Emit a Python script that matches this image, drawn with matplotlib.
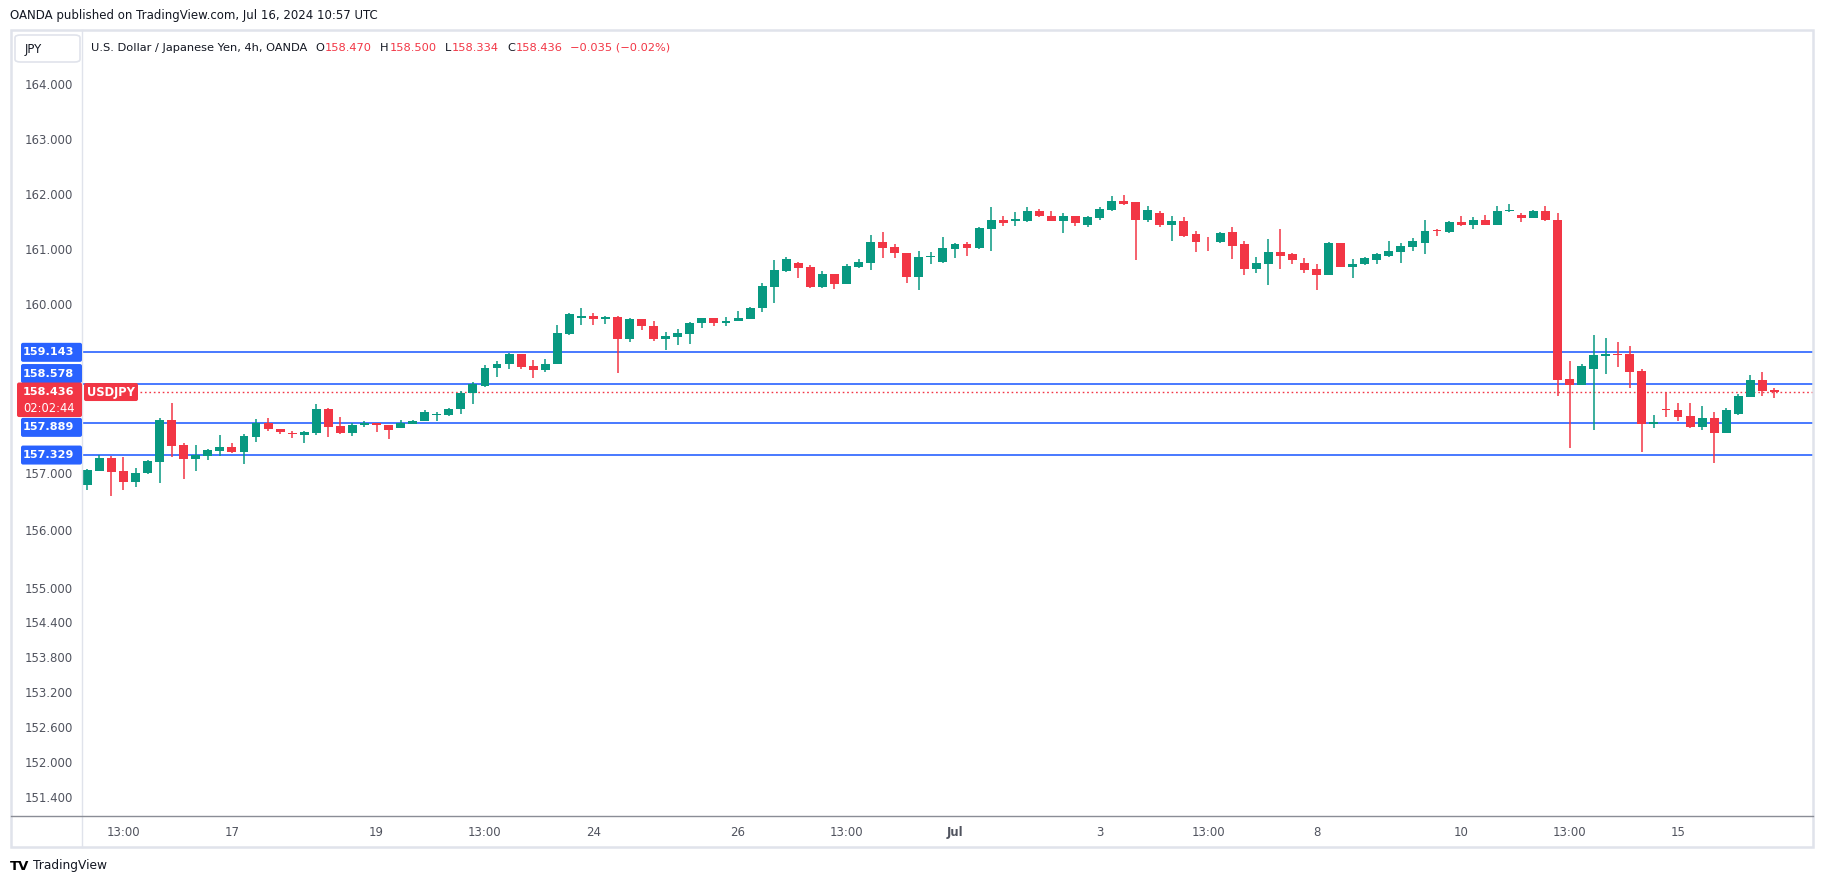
"""
USD/JPY 4h candlestick chart (OANDA), styled after a TradingView snapshot.
"""
import matplotlib
matplotlib.use("Agg")
import matplotlib.pyplot as plt
import numpy as np
from matplotlib.lines import Line2D
from matplotlib.patches import FancyBboxPatch, Rectangle
from matplotlib.ticker import FixedLocator, FuncFormatter, NullFormatter, NullLocator
from matplotlib.transforms import IdentityTransform


# candle data, one entry per 4h bar (Jun 13 01:00 -> Jul 16 09:00)
opens = [
    156.79, 157.04, 157.26, 157.04, 156.85, 157.01, 157.20, 157.94, 157.49, 157.25,
    157.31, 157.39, 157.46, 157.38, 157.64, 157.89, 157.78, 157.70, 157.68, 157.71,
    158.14, 157.83, 157.71, 157.85, 157.89, 157.86, 157.80, 157.87, 157.92, 158.02,
    158.02, 158.13, 158.41, 158.54, 158.86, 158.94, 159.11, 158.90, 158.82, 158.93,
    159.47, 159.76, 159.80, 159.74, 159.78, 159.38, 159.73, 159.61, 159.38, 159.42,
    159.47, 159.67, 159.75, 159.67, 159.70, 159.74, 159.93, 160.32, 160.60, 160.74,
    160.67, 160.32, 160.54, 160.37, 160.67, 160.74, 161.13, 161.04, 160.92, 160.50,
    160.85, 160.77, 160.99, 161.08, 161.01, 161.35, 161.53, 161.51, 161.51, 161.69,
    161.60, 161.51, 161.59, 161.44, 161.55, 161.71, 161.86, 161.84, 161.53, 161.64,
    161.44, 161.51, 161.26, 161.145, 161.13, 161.30, 161.08, 160.64, 160.73, 160.95,
    160.90, 160.75, 160.63, 160.53, 161.10, 160.68, 160.72, 160.79, 160.88, 160.95,
    161.04, 161.11, 161.33, 161.31, 161.48, 161.44, 161.53, 161.44, 161.68, 161.62,
    161.55, 161.69, 161.53, 158.67, 158.56, 158.85, 159.08, 159.11, 159.11, 158.81,
    157.87, 158.14, 158.12, 158.01, 157.82, 157.98, 157.71, 158.05, 158.35, 158.65,
    158.470,
]
highs = [
    157.08, 157.32, 157.30, 157.28, 157.10, 157.24, 157.98, 158.25, 157.53, 157.49,
    157.43, 157.67, 157.53, 157.69, 157.95, 157.97, 157.78, 157.74, 157.74, 158.23,
    158.16, 158.00, 157.88, 157.93, 157.89, 157.86, 157.94, 157.94, 158.12, 158.09,
    158.15, 158.45, 158.62, 158.92, 158.98, 159.13, 159.11, 159.01, 159.03, 159.63,
    159.84, 159.93, 159.84, 159.80, 159.80, 159.75, 159.73, 159.70, 159.50, 159.56,
    159.68, 159.75, 159.75, 159.77, 159.89, 159.96, 160.39, 160.79, 160.85, 160.76,
    160.70, 160.60, 160.54, 160.72, 160.81, 161.25, 161.30, 161.08, 160.93, 160.97,
    160.95, 161.21, 161.10, 161.13, 161.40, 161.75, 161.59, 161.66, 161.75, 161.73,
    161.69, 161.64, 161.60, 161.59, 161.75, 161.95, 161.97, 161.84, 161.77, 161.69,
    161.59, 161.57, 161.33, 161.21, 161.30, 161.40, 161.15, 160.86, 161.17, 161.35,
    160.92, 160.84, 160.73, 161.13, 161.11, 160.82, 160.86, 160.93, 161.15, 161.10,
    161.19, 161.53, 161.35, 161.51, 161.60, 161.57, 161.62, 161.77, 161.82, 161.64,
    161.71, 161.77, 161.64, 158.99, 158.94, 159.45, 159.40, 159.33, 159.26, 158.85,
    158.03, 158.44, 158.24, 158.24, 158.19, 158.08, 158.15, 158.40, 158.74, 158.79,
    158.500,
]
lows = [
    156.70, 157.04, 156.60, 156.71, 156.75, 156.99, 156.83, 157.29, 156.90, 157.04,
    157.24, 157.30, 157.35, 157.17, 157.55, 157.74, 157.70, 157.62, 157.53, 157.67,
    157.64, 157.70, 157.65, 157.81, 157.73, 157.60, 157.80, 157.87, 157.92, 157.92,
    158.01, 158.05, 158.23, 158.52, 158.71, 158.84, 158.84, 158.68, 158.80, 158.93,
    159.46, 159.63, 159.63, 159.65, 158.77, 159.33, 159.54, 159.35, 159.19, 159.28,
    159.30, 159.58, 159.61, 159.61, 159.70, 159.74, 159.86, 160.02, 160.59, 160.48,
    160.30, 160.30, 160.27, 160.36, 160.66, 160.62, 160.84, 160.84, 160.39, 160.26,
    160.72, 160.75, 160.84, 160.88, 160.99, 160.97, 161.42, 161.42, 161.48, 161.57,
    161.50, 161.28, 161.42, 161.40, 161.53, 161.68, 161.80, 160.79, 161.48, 161.39,
    161.15, 161.21, 160.95, 160.97, 161.11, 160.82, 160.53, 160.57, 160.35, 160.64,
    160.72, 160.57, 160.26, 160.53, 160.68, 160.48, 160.70, 160.73, 160.86, 160.75,
    160.97, 160.90, 161.24, 161.28, 161.42, 161.35, 161.44, 161.44, 161.66, 161.48,
    161.55, 161.51, 158.37, 157.44, 158.56, 157.76, 158.76, 158.88, 158.51, 157.37,
    157.80, 157.99, 157.92, 157.80, 157.76, 157.18, 157.71, 158.03, 158.35, 158.37,
    158.334,
]
closes = [
    157.05, 157.26, 157.03, 156.85, 157.01, 157.21, 157.94, 157.48, 157.25, 157.32,
    157.41, 157.46, 157.38, 157.65, 157.89, 157.78, 157.73, 157.69, 157.72, 158.14,
    157.81, 157.71, 157.86, 157.89, 157.85, 157.77, 157.88, 157.93, 158.09, 158.04,
    158.14, 158.41, 158.57, 158.87, 158.94, 159.11, 158.88, 158.82, 158.94, 159.48,
    159.82, 159.80, 159.74, 159.78, 159.38, 159.73, 159.61, 159.38, 159.43, 159.48,
    159.66, 159.75, 159.67, 159.71, 159.75, 159.94, 160.33, 160.61, 160.81, 160.66,
    160.32, 160.54, 160.37, 160.69, 160.76, 161.13, 161.02, 160.92, 160.50, 160.86,
    160.88, 161.01, 161.08, 161.01, 161.37, 161.53, 161.46, 161.54, 161.69, 161.59,
    161.51, 161.59, 161.46, 161.57, 161.73, 161.86, 161.82, 161.53, 161.71, 161.44,
    161.51, 161.24, 161.13, 161.138, 161.28, 161.06, 160.63, 160.75, 160.95, 160.88,
    160.79, 160.61, 160.53, 161.10, 160.68, 160.73, 160.84, 160.90, 160.97, 161.06,
    161.15, 161.33, 161.32, 161.48, 161.44, 161.53, 161.44, 161.69, 161.71, 161.55,
    161.69, 161.53, 158.65, 158.56, 158.90, 159.10, 159.11, 159.10, 158.79, 157.87,
    157.90, 158.12, 158.00, 157.82, 157.98, 157.71, 158.12, 158.37, 158.65, 158.46,
    158.436,
]

# horizontal levels drawn on the chart
level_lines = [159.143, 158.578, 157.889, 157.329]
last_price = 158.436
countdown = "02:02:44"

y_ticks = [151.4, 152.0, 152.6, 153.2, 153.8, 154.4, 155.0, 156.0, 157.0,
           160.0, 161.0, 162.0, 163.0, 164.0]
x_tick_idx = [3, 12, 24, 33, 42, 54, 63, 72, 84, 93, 102, 114, 123, 132]
x_tick_labels = ["13:00", "17", "19", "13:00", "24", "26", "13:00", "Jul",
                 "3", "13:00", "8", "10", "13:00", "15"]

UP = "#089981"
DOWN = "#F23645"
BLUE = "#2962FF"
TEXT = "#131722"
AXIS_TEXT = "#50535e"
BORDER = "#e0e3eb"

W, H = 1825, 886


def fx(x):
    return x / W


def fy(y):
    return 1 - y / H


def main():
    fig = plt.figure(figsize=(W / 100, H / 100), dpi=100)
    fig.patch.set_facecolor("white")
    ax = fig.add_axes([fx(82), fy(816), (1813 - 82) / W, (816 - 30) / H])

    o = np.array(opens)
    hi = np.array(highs)
    lo = np.array(lows)
    c = np.array(closes)
    x = np.arange(len(o))
    cols = [UP if cc >= oo else DOWN for oo, cc in zip(o, c)]

    ax.set_yscale("log")
    ax.set_ylim(151.08, 165.0)
    ax.set_xlim(-0.44, 143.2)

    for lvl in level_lines:
        ax.axhline(lvl, color=BLUE, lw=1.2, zorder=1)
    ax.axhline(last_price, xmin=(140 - 82) / (1813 - 82), color=DOWN, lw=1.0,
               ls=(0, (1.2, 2.0)), zorder=1)

    ax.vlines(x, lo, hi, colors=cols, lw=1.1, zorder=2)
    body = np.maximum(np.abs(c - o), 0.012)
    ax.bar(x, body, bottom=np.minimum(o, c), width=0.74, color=cols,
           linewidth=0, zorder=3)

    ax.yaxis.set_major_locator(FixedLocator(y_ticks))
    ax.yaxis.set_major_formatter(FuncFormatter(lambda v, p: f"{v:.3f}"))
    ax.yaxis.set_minor_locator(NullLocator())
    ax.yaxis.set_minor_formatter(NullFormatter())
    ax.set_xticks(x_tick_idx)
    ax.set_xticklabels(x_tick_labels)
    for lab in ax.get_xticklabels():
        if lab.get_text() == "Jul":
            lab.set_fontweight("bold")
    ax.tick_params(axis="y", length=0, pad=6.5, labelsize=8.5, labelcolor=AXIS_TEXT)
    ax.tick_params(axis="x", length=0, pad=7.5, labelsize=8.5, labelcolor=AXIS_TEXT)
    for s in ax.spines.values():
        s.set_visible(False)

    # frame, axis separators
    fig.add_artist(Rectangle((fx(11), fy(847)), (1813 - 11) / W, (847 - 30) / H,
                             transform=fig.transFigure, fill=False, ec=BORDER, lw=1.8))
    fig.add_artist(Line2D([fx(82), fx(82)], [fy(30), fy(847)], color=BORDER, lw=1.0))
    fig.add_artist(Line2D([fx(11), fx(1813)], [fy(816), fy(816)], color="#8a8d96", lw=1.0))

    # price tags on the scale, positioned from the data levels
    ident = IdentityTransform()

    def ydisp(val):
        return ax.transData.transform((0, val))[1]

    def tag(x0, x1, yc, h, color):
        fig.add_artist(FancyBboxPatch((x0, yc - h / 2), x1 - x0, h,
                                      boxstyle="round,pad=0,rounding_size=2",
                                      transform=ident, fc=color, ec="none", zorder=5))

    shifts = {159.143: 0, 158.578: 10.5, 157.889: -4.5, 157.329: -0.5}
    for lvl in level_lines:
        yc = ydisp(lvl) + shifts[lvl]
        tag(21, 82, yc, 19, BLUE)
        fig.text(fx(74), yc / H, f"{lvl:.3f}", color="white", fontsize=8.1,
                 fontweight="bold", ha="right", va="center", zorder=6)

    yl = ydisp(last_price)
    fig.add_artist(FancyBboxPatch((17, yl - 25), 65, 34.5,
                                  boxstyle="round,pad=0,rounding_size=2",
                                  transform=ident, fc=DOWN, ec="none", zorder=5))
    fig.text(fx(74), yl / H, f"{last_price:.3f}", color="white", fontsize=8.1,
             fontweight="bold", ha="right", va="center", zorder=6)
    fig.text(fx(75), (yl - 16) / H, countdown, color="white", fontsize=8.3,
             ha="right", va="center", zorder=6)
    fig.add_artist(FancyBboxPatch((84, yl - 9), 54, 18,
                                  boxstyle="round,pad=0,rounding_size=2",
                                  transform=ident, fc=DOWN, ec="none", zorder=5))
    fig.text(fx(111), yl / H, "USDJPY", color="white", fontsize=8.3,
             fontweight="bold", ha="center", va="center", zorder=6)

    # header texts
    fig.text(fx(10), fy(15), "OANDA published on TradingView.com, Jul 16, 2024 10:57 UTC",
             color=TEXT, fontsize=8.5, va="center", ha="left")
    fig.add_artist(FancyBboxPatch((fx(15), fy(62)), (80 - 15) / W, (62 - 35) / H,
                                  boxstyle="round,pad=0,rounding_size=0.003",
                                  transform=fig.transFigure, fc="white", ec=BORDER,
                                  lw=1.2, zorder=4))
    fig.text(fx(25), fy(49), "JPY", color=TEXT, fontsize=8.5, va="center",
             ha="left", zorder=5)

    renderer = fig.canvas.get_renderer()
    pieces = [
        ("U.S. Dollar / Japanese Yen, 4h, OANDA", TEXT, 8),
        ("O", TEXT, 1), ("158.470", DOWN, 8),
        ("H", TEXT, 1), ("158.500", DOWN, 8),
        ("L", TEXT, 1), ("158.334", DOWN, 8),
        ("C", TEXT, 1), ("158.436", DOWN, 7),
        ("\u22120.035 (\u22120.02%)", DOWN, 0),
    ]
    xpos = 91
    for txt, col, gap in pieces:
        t = fig.text(fx(xpos), fy(48), txt, color=col, fontsize=8.2, va="center", ha="left")
        xpos += t.get_window_extent(renderer).width + gap

    # footer logo
    fig.text(fx(10), fy(866), "TV", color="black", fontsize=9.5, fontweight="heavy",
             va="center", ha="left")
    fig.text(fx(33), fy(866), "TradingView", color=TEXT, fontsize=8.8,
             va="center", ha="left")

    fig.savefig("out.png", dpi=100, facecolor="white")
    plt.close(fig)


if __name__ == "__main__":
    main()
